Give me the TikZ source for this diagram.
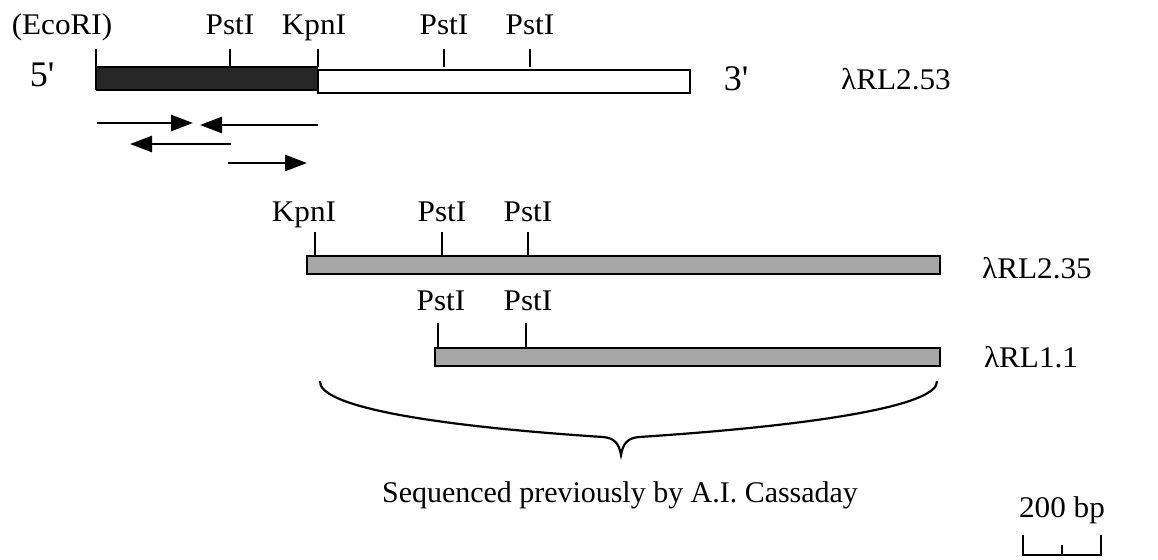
\documentclass[tikz,border=0pt]{standalone}
\usepackage{fontspec}
\setmainfont{Liberation Serif}
\usetikzlibrary{arrows.meta}
\begin{document}
\begin{tikzpicture}[x=0.5pt,y=-0.5pt,
  lbl/.style={anchor=base,inner sep=0pt,font=\fontsize{15}{17}\selectfont,xscale=1.04},
  endlbl/.style={anchor=base,inner sep=0pt,font=\fontsize{18}{20}\selectfont},
  site/.style={line width=0.9pt},
  bar/.style={draw=black,line width=0.9pt},
  clone/.style={bar,fill=black!35},
  primer/.style={line width=1.3pt,-{Triangle[length=11pt,width=8pt]}}]
\useasboundingbox (0,0) rectangle (1158,559);

% --- lambda RL2.53 ---
\fill[black!85] (96,67) rectangle (318,90);
\draw[bar] (96,67) -- (318,67) (96,90) -- (318,90) (96,67) -- (96,90);
\draw[bar] (318,70) rectangle (690,93);
\foreach \x in {96,230,318,444,530} \draw[site] (\x,67) -- (\x,49);
\node[lbl] (eco) at (62,34) {(EcoRI)};
\node[lbl] (p1) at (230,34) {PstI};
\node[lbl] (k1) at (314,34) {KpnI};
\node[lbl] (p2) at (444,34) {PstI};
\node[lbl] (p3) at (530,34) {PstI};
\node[endlbl] (five) at (42,86) {5\textquotesingle};
\node[endlbl] (three) at (736,90) {3\textquotesingle};
\node[lbl] (c1) at (896,89) {λRL2.53};

% sequencing primers
\coordinate (a1s) at (97,123);  \coordinate (a1e) at (193,123);
\coordinate (a2s) at (318,125); \coordinate (a2e) at (200,125);
\coordinate (a3s) at (231,144); \coordinate (a3e) at (130,144);
\coordinate (a4s) at (228,163); \coordinate (a4e) at (307,163);
\draw[primer] (a1s) -- (a1e);
\draw[primer] (a2s) -- (a2e);
\draw[primer] (a3s) -- (a3e);
\draw[primer] (a4s) -- (a4e);

% --- lambda RL2.35 ---
\draw[clone] (307,256) rectangle (940,274);
\foreach \x in {315,442,528} \draw[site] (\x,256) -- (\x,232);
\node[lbl] (k2) at (304,221) {KpnI};
\node[lbl] (p4) at (442,221) {PstI};
\node[lbl] (p5) at (528,221) {PstI};
\node[lbl] (c2) at (1037,278) {λRL2.35};

% --- lambda RL1.1 ---
\draw[clone] (435,348) rectangle (940,366);
\foreach \x in {438,526} \draw[site] (\x,348) -- (\x,323);
\node[lbl] (p6) at (441,310) {PstI};
\node[lbl] (p7) at (528,310) {PstI};
\node[lbl] (c3) at (1031,367) {λRL1.1};

% brace over the previously sequenced region
\coordinate (bl) at (320,381);
\coordinate (br) at (937,381);
\coordinate (bt) at (621,455);
\draw[line width=1.1pt] (bl) .. controls (318,405) and (420,425) .. (603,437)
  .. controls (614,438) and (619,443) .. (bt)
  .. controls (623,443) and (628,438) .. (639,437)
  .. controls (822,425) and (939,405) .. (br);
\node[lbl,xscale=0.96] (seq) at (620,502) {Sequenced previously by A.I. Cassaday};

% scale bar
\node[lbl] (bp) at (1062,517) {200 bp};
\coordinate (s1) at (1023,535);
\coordinate (s2) at (1101,535);
\draw[line width=1pt] (s1) -- (1023,555) -- (1101,555) -- (s2);
\draw[line width=1pt] (1062,545) -- (1062,555);
\end{tikzpicture}
\end{document}
